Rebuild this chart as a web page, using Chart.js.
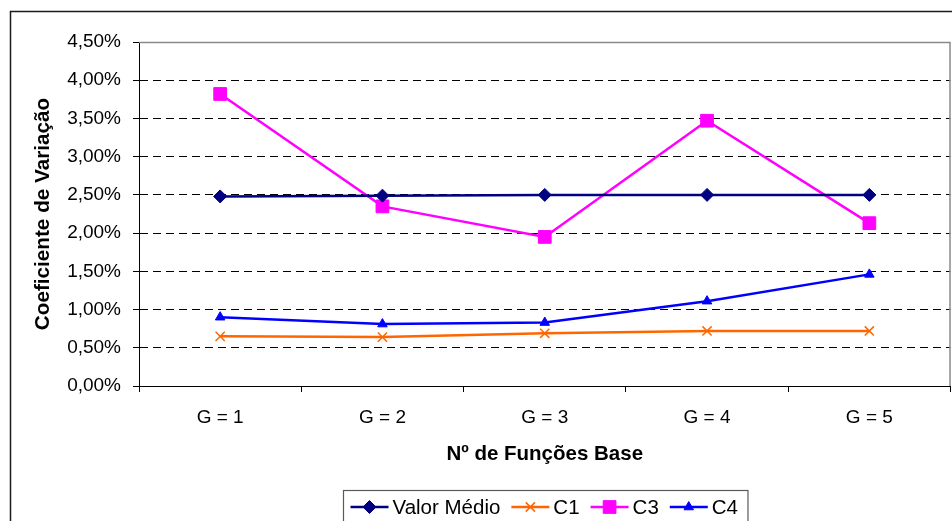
<!DOCTYPE html>
<html>
<head>
<meta charset="utf-8">
<title>Coeficiente de Variação</title>
<script src="https://cdn.jsdelivr.net/npm/chart.js@4/dist/chart.umd.min.js"></script>
<style>
  html, body { margin: 0; padding: 0; background: #fff; }
  canvas { display: block; }
</style>
</head>
<body>
<canvas id="cv" width="952" height="521"></canvas>
<script>
// Categories (number of base functions) and the series, in percent
const categories = ['G = 1', 'G = 2', 'G = 3', 'G = 4', 'G = 5'];
const valorMedio = [2.48, 2.49, 2.50, 2.50, 2.50];
const c1 = [0.65, 0.64, 0.69, 0.72, 0.72];
const c3 = [3.82, 2.35, 1.95, 3.47, 2.13];
const c4 = [0.90, 0.81, 0.83, 1.11, 1.46];
const yTicks = [0, 0.5, 1, 1.5, 2, 2.5, 3, 3.5, 4, 4.5];

const FONT = '"Liberation Sans", Arial, Helvetica, sans-serif';

function pct(v) {
  return v.toFixed(2).replace('.', ',') + '%';
}

function series(label, data, color, style, radius, borderW) {
  return {
    label: label,
    data: data,
    borderColor: color,
    backgroundColor: color,
    borderWidth: 2.5,
    pointStyle: style,
    pointRadius: radius,
    pointHoverRadius: radius,
    pointBackgroundColor: color,
    pointBorderColor: color,
    pointBorderWidth: borderW,
    tension: 0,
    fill: false
  };
}

// Outer frame, plot-area border and the boxed legend
const decorations = {
  id: 'decorations',
  beforeDatasetsDraw(chart) {
    const { ctx, chartArea: a } = chart;
    ctx.save();
    ctx.strokeStyle = '#8a8a8a';
    ctx.lineWidth = 1.5;
    ctx.beginPath();
    ctx.moveTo(a.left, a.top + 0.5);
    ctx.lineTo(a.right - 0.5, a.top + 0.5);
    ctx.lineTo(a.right - 0.5, a.bottom);
    ctx.stroke();
    ctx.restore();
  },
  afterDraw(chart) {
    const { ctx, chartArea: a } = chart;
    ctx.save();
    // outer frame
    ctx.strokeStyle = '#1a1a1a';
    ctx.lineWidth = 1.5;
    ctx.beginPath();
    ctx.moveTo(10.5, chart.height + 2);
    ctx.lineTo(10.5, 11.5);
    ctx.lineTo(chart.width + 2, 11.5);
    ctx.stroke();

    // legend
    ctx.font = '20.5px ' + FONT;
    const lineLen = 38, textGap = 4, itemGap = 11, padL = 7, padR = 10;
    const items = chart.data.datasets.map(ds => ({ ds, w: ctx.measureText(ds.label).width }));
    let total = 0;
    items.forEach((it, i) => { total += lineLen + textGap + it.w + (i < items.length - 1 ? itemGap : 0); });
    const boxW = total + padL + padR;
    const cx = (a.left + a.right) / 2;
    const boxX = Math.round(cx - boxW / 2) + 0.5;
    const boxY = 490.5;
    const midY = 507;

    ctx.strokeStyle = '#5a5a5a';
    ctx.lineWidth = 1.2;
    ctx.strokeRect(boxX, boxY, boxW, 60);

    let x = boxX + padL;
    items.forEach(it => {
      const ds = it.ds;
      ctx.strokeStyle = ds.borderColor;
      ctx.fillStyle = ds.backgroundColor;
      ctx.lineWidth = ds.borderWidth;
      ctx.beginPath();
      ctx.moveTo(x, midY);
      ctx.lineTo(x + lineLen, midY);
      ctx.stroke();
      ctx.lineWidth = ds.pointBorderWidth;
      Chart.helpers.drawPoint(ctx, {
        pointStyle: ds.pointStyle,
        radius: ds.pointRadius,
        rotation: 0,
        borderWidth: ds.pointBorderWidth
      }, x + lineLen / 2, midY);
      ctx.fillStyle = '#000';
      ctx.textAlign = 'left';
      ctx.textBaseline = 'middle';
      ctx.fillText(ds.label, x + lineLen + textGap, midY + 1);
      x += lineLen + textGap + it.w + itemGap;
    });
    ctx.restore();
  }
};

new Chart(document.getElementById('cv'), {
  type: 'line',
  data: {
    labels: categories,
    datasets: [
      series('Valor Médio', valorMedio, '#000080', 'rectRot', 6.5, 1),
      series('C1', c1, '#FF6600', 'crossRot', 6.5, 1.5),
      series('C3', c3, '#FF00FF', 'rect', 9, 1),
      series('C4', c4, '#0000FF', 'triangle', 5.5, 1)
    ]
  },
  options: {
    responsive: false,
    animation: false,
    devicePixelRatio: 1,
    layout: { autoPadding: false, padding: { top: 42, right: 1.5, bottom: 54, left: 0 } },
    plugins: {
      legend: { display: false },
      tooltip: { enabled: false },
      title: { display: false }
    },
    scales: {
      x: {
        type: 'category',
        offset: true,
        afterFit(scale) {
          scale.height = 81;
          scale.paddingLeft = 0;
          scale.paddingRight = 0;
        },
        grid: {
          offset: true,
          drawOnChartArea: false,
          drawTicks: true,
          tickLength: 6,
          color: '#000',
          lineWidth: 1
        },
        border: { display: true, color: '#000', width: 1 },
        ticks: {
          color: '#000',
          font: { family: FONT, size: 19 },
          padding: 14,
          maxRotation: 0,
          autoSkip: false
        },
        title: {
          display: true,
          text: 'Nº de Funções Base',
          color: '#000',
          font: { family: FONT, size: 20.5, weight: 'bold' },
          padding: { top: 0, bottom: 0 }
        }
      },
      y: {
        min: 0,
        max: 4.5,
        afterFit(scale) { scale.width = 139; },
        afterBuildTicks(scale) { scale.ticks = yTicks.map(v => ({ value: v })); },
        grid: {
          drawTicks: true,
          tickLength: 6,
          tickColor: '#000',
          color: ctx => (ctx.tick && ctx.tick.value === 4.5) ? 'rgba(0,0,0,0)' : '#000',
          lineWidth: 1
        },
        border: { display: true, color: '#000', width: 1, dash: [8, 5] },
        ticks: {
          color: '#000',
          font: { family: FONT, size: 19 },
          padding: 12,
          callback: v => pct(v)
        },
        title: {
          display: true,
          text: 'Coeficiente de Variação',
          color: '#000',
          font: { family: FONT, size: 20.7, weight: 'bold' },
          padding: { top: 31, bottom: 0 }
        }
      }
    }
  },
  plugins: [decorations]
});
</script>
</body>
</html>
